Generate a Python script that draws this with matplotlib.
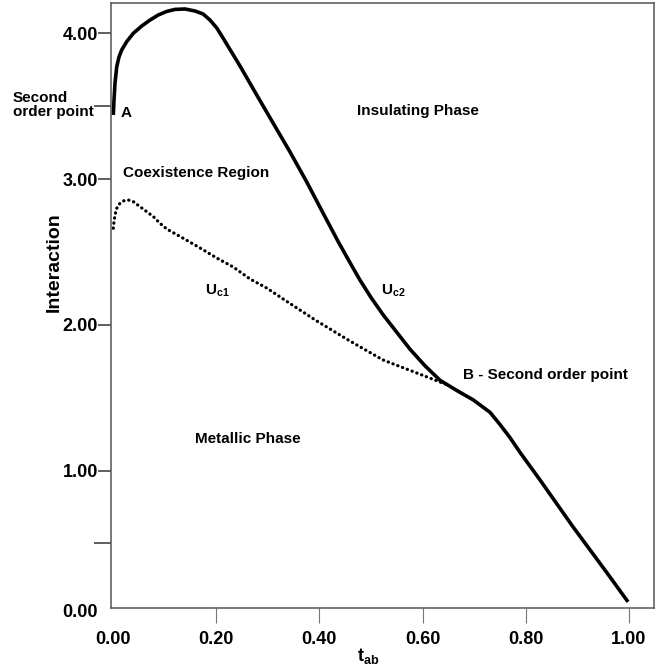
import matplotlib
matplotlib.use("Agg")
import matplotlib.pyplot as plt

plt.rcParams['font.family'] = ['Liberation Sans', 'DejaVu Sans']
plt.rcParams['font.weight'] = 'bold'
plt.rcParams['mathtext.fontset'] = 'custom'
plt.rcParams['mathtext.rm'] = 'Liberation Sans:bold'
plt.rcParams['mathtext.bf'] = 'Liberation Sans:bold'
plt.rcParams['mathtext.it'] = 'Liberation Sans:bold'

# Uc2 (solid) curve
uc2_t = [0.0006, 0.0019, 0.0039, 0.0072, 0.0116, 0.0169, 0.0266, 0.0393, 0.0556, 0.0717,
         0.0878, 0.1041, 0.1202, 0.1395, 0.1589, 0.1744, 0.1880, 0.2010, 0.2132, 0.2461,
         0.2785, 0.3101, 0.3430, 0.3754, 0.4070, 0.4360, 0.4593, 0.4787, 0.5000, 0.5233,
         0.5756, 0.6047, 0.6337, 0.6661, 0.6982, 0.7306, 0.7500, 0.7694, 0.7888,
         0.8275, 0.8915, 0.9574, 0.9981]
uc2_u = [3.441, 3.544, 3.661, 3.771, 3.839, 3.887, 3.944, 4.001, 4.051, 4.092,
         4.127, 4.151, 4.165, 4.168, 4.154, 4.134, 4.092, 4.038, 3.969, 3.777,
         3.578, 3.386, 3.187, 2.981, 2.768, 2.574, 2.427, 2.307, 2.188, 2.070,
         1.833, 1.719, 1.620, 1.550, 1.485, 1.400, 1.316, 1.226, 1.125,
         0.936, 0.614, 0.298, 0.099]

# Uc1 (dotted) curve
uc1_t = [0.0006, 0.0019, 0.0039, 0.0072, 0.0136, 0.0213, 0.0297, 0.0393, 0.0523, 0.0653,
         0.0781, 0.0911, 0.1041, 0.1362, 0.1686, 0.2010, 0.2331, 0.2655, 0.2979, 0.3295,
         0.3948, 0.4593, 0.5233, 0.5886, 0.6531]
uc1_u = [2.663, 2.708, 2.754, 2.800, 2.835, 2.852, 2.857, 2.846, 2.811, 2.777,
         2.743, 2.697, 2.658, 2.594, 2.528, 2.459, 2.397, 2.315, 2.253, 2.178,
         2.027, 1.889, 1.759, 1.670, 1.581]

x_ticks = [0.0, 0.2, 0.4, 0.6, 0.8, 1.0]
x_labels = ['0.00', '0.20', '0.40', '0.60', '0.80', '1.00']
y_ticks = [1.0, 2.0, 3.0, 4.0]
y_labels = ['1.00', '2.00', '3.00', '4.00']
y_minor = [0.5, 3.5]

W, H = 672, 671
fig = plt.figure(figsize=(W / 100, H / 100), dpi=100)
ax = fig.add_axes([111 / W, 1 - 607.7 / H, (653.7 - 111) / W, (607.7 - 3) / H])

ax.plot(uc2_t, uc2_u, color='black', lw=2.6, solid_capstyle='butt', solid_joinstyle='round')
ax.plot(uc1_t, uc1_u, color='black', lw=2.3, linestyle=(0, (0.1, 1.5)),
        dash_capstyle='round')

ax.set_xlim(-0.0039, 1.0479)
ax.set_ylim(0.059, 4.209)

for s in ax.spines.values():
    s.set_color('#555555')
    s.set_linewidth(1.1)

ax.set_xticks(x_ticks)
ax.set_xticklabels(x_labels, fontsize=13, fontweight='bold')
ax.tick_params(axis='x', direction='out', length=11, width=0.8, color='#777777', pad=5.5)
ax.xaxis.get_major_ticks()[0].tick1line.set_visible(False)

ax.set_yticks(y_ticks)
ax.set_yticklabels(y_labels, fontsize=13, fontweight='bold')
ax.set_yticks(y_minor, minor=True)
ax.set_yticklabels(['', ''], minor=True)
ax.tick_params(axis='y', which='major', direction='out', length=9.5, width=1.1,
               color='#333333', pad=0)
ax.tick_params(axis='y', which='minor', direction='out', length=12.5, width=1.1,
               color='#333333', pad=1)

# label of the 3.5 minor tick
fig.text(13 / W, 1 - 101.7 / H, 'Second', fontsize=11, fontweight='bold',
         ha='left', va='baseline')
fig.text(13 / W, 1 - 116 / H, 'order point', fontsize=11, fontweight='bold',
         ha='left', va='baseline')

# 0.00 label on the y axis (below the plotted range)
ax.text(-0.0039 - 13 / 516, 0.026, '0.00', fontsize=13, fontweight='bold',
        ha='right', va='center', clip_on=False)

fig.text(54 / W, 1 - 262 / H, 'Interaction', rotation=90, fontsize=14,
         fontweight='bold', ha='center', va='center')
fig.text(368 / W, 1 - 656 / H, r'$\mathbf{t}_{\mathbf{ab}}$', fontsize=13,
         ha='center', va='center')

kw = dict(fontsize=11, fontweight='bold', ha='left', va='center')
ax.text(0.473, 3.468, 'Insulating Phase', **kw)
ax.text(0.019, 3.044, 'Coexistence Region', **kw)
ax.text(0.014, 3.454, 'A', **kw)
ax.text(0.178, 2.233, r'U$_{\mathbf{c1}}$', **kw)
ax.text(0.519, 2.233, r'U$_{\mathbf{c2}}$', **kw)
ax.text(0.678, 1.656, 'B - Second order point', **kw)
ax.text(0.159, 1.217, 'Metallic Phase', **kw)

fig.savefig('out.png', dpi=100)
